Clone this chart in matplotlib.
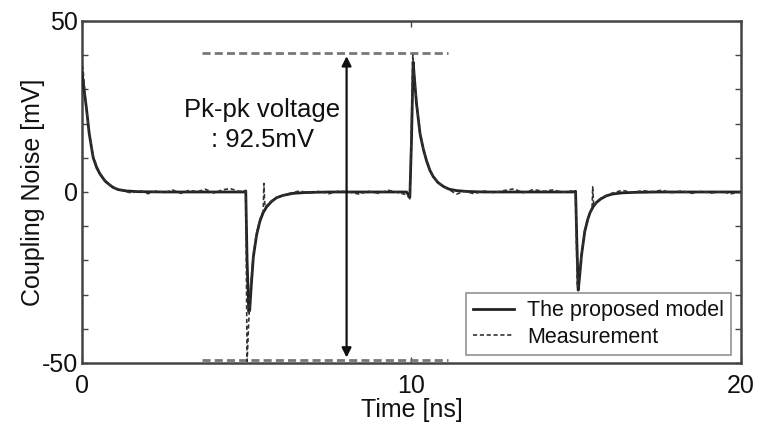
import matplotlib
matplotlib.use("Agg")
import matplotlib.pyplot as plt

plt.rcParams['font.family'] = ['Liberation Sans', 'DejaVu Sans']

# ---- data ----
model_t = [0.0, 0.05, 0.14, 0.22, 0.34, 0.45, 0.55, 0.7, 0.85, 0.95, 1.1, 1.35, 1.7, 2.5,
           4.9, 4.97, 5.01, 5.06, 5.09, 5.14, 5.2, 5.3, 5.4, 5.5, 5.6, 5.75, 5.9, 6.1, 6.4, 6.8, 7.5,
           9.85, 9.95, 10.0, 10.05, 10.1, 10.15, 10.26, 10.36, 10.46, 10.56, 10.66, 10.8, 10.97,
           11.15, 11.37, 11.7, 12.2,
           14.9, 14.98, 15.02, 15.06, 15.1, 15.16, 15.26, 15.35, 15.42, 15.52, 15.62, 15.75, 15.92,
           16.1, 16.4, 16.8, 17.5, 20.0]
model_v = [35, 31, 24, 17, 10, 7, 5.2, 3.2, 2.0, 1.3, 0.7, 0.3, 0.1, 0.0,
           0.0, 0.3, -20, -35, -34.5, -27, -19, -12.5, -8.5, -6, -4.4, -2.8, -1.7, -1.0, -0.4, -0.15, 0.0,
           0.0, -1.5, 15, 38, 32, 26, 17, 12.5, 9, 6.3, 4.5, 2.8, 1.6,
           0.8, 0.4, 0.15, 0.0,
           0.0, 0.2, -15, -28.7, -25, -18.5, -11.5, -8, -6, -4.2, -3.0, -2.0, -1.1,
           -0.6, -0.25, -0.1, 0.0, 0.0]

meas_t = [0.0, 0.03, 0.08, 0.14, 0.22, 0.34, 0.45, 0.55, 0.7, 0.85, 0.95, 1.1, 1.3, 1.5, 1.75,
          2.0, 2.25, 2.5, 2.75, 3.0, 3.25, 3.5, 3.75, 4.0, 4.25, 4.5, 4.75, 4.97,
          5.01, 5.06, 5.12, 5.2, 5.3, 5.4, 5.5, 5.52, 5.55, 5.6, 5.75, 5.9, 6.1, 6.3, 6.6, 6.9,
          7.2, 7.5, 7.8, 8.1, 8.4, 8.7, 9.0, 9.3, 9.6, 9.85, 9.95,
          10.0, 10.04, 10.08, 10.15, 10.26, 10.36, 10.46, 10.56, 10.66, 10.8, 10.97, 11.15, 11.37,
          11.6, 11.9, 12.2, 12.5, 12.8, 13.1, 13.4, 13.7, 14.0, 14.3, 14.6, 14.85, 14.98,
          15.03, 15.08, 15.16, 15.26, 15.35, 15.42, 15.48, 15.5, 15.53, 15.62, 15.75, 15.92,
          16.1, 16.4, 16.7, 17.0, 17.3, 17.6, 17.9, 18.2, 18.5, 18.8, 19.1, 19.4, 19.7, 20.0]
meas_v = [37, 36, 30, 24, 17, 10.5, 7.5, 5.5, 3.4, 2.0, 1.4, 0.7, 0.2, -0.3, 0.4,
          -0.5, 0.3, -0.2, 0.6, -0.4, 0.5, 0.1, 0.8, -0.3, 0.6, 1.0, 0.2, 0.3,
          -49.5, -38, -27, -18, -12, -8, -5.5, 2.5, -4.5, -4.0, -2.6, -1.6, -1.0, -0.4, 0.3, -0.3,
          0.2, -0.5, 0.3, 0.0, -0.6, 0.2, -0.4, 0.5, -0.2, -0.8, -2.0,
          20, 40, 34, 27, 17, 12.5, 9.4, 6.5, 4.5, 2.8, 1.6, 0.6, -0.6,
          0.2, -0.5, 0.3, -0.2, 0.4, 0.9, -0.2, 0.7, 0.2, 0.6, -0.1, 0.3, 0.0,
          -28, -26, -18, -11, -8, -6, -5, 1.5, -4.2, -2.8, -1.8, -1.0,
          -0.3, 0.5, -0.2, 0.4, 0.1, 0.5, -0.2, 0.3, -0.4, 0.2, -0.3, 0.1, -0.5, 0.0]

pk_top = 40.5
pk_bottom = -49.2
pk_span = [3.65, 11.1]
arrow_x = 8.03
annot_text = "Pk-pk voltage\n: 92.5mV"

x_ticks = [0, 10, 20]
y_ticks = [-50, -40, -30, -20, -10, 0, 10, 20, 30, 40, 50]
y_labels = ['-50', '', '', '', '', '0', '', '', '', '', '50']

# ---- figure ----
fig = plt.figure(figsize=(7.65, 4.24), dpi=100)
ax = fig.add_axes([0.1072, 0.1439, 0.8614, 0.8066])

txt = '#111111'
ax.plot(model_t, model_v, color='#222222', lw=2.0, label='The proposed model', zorder=3)
l2, = ax.plot(meas_t, meas_v, color='#333333', lw=1.2, ls='--', label='Measurement', zorder=4)
l2.set_dashes((2.5, 1.6))

for yv in (pk_top, pk_bottom):
    ln, = ax.plot(pk_span, [yv, yv], color='#777777', lw=2.0, zorder=2)
    ln.set_dashes((2.9, 1.5))

ax.annotate('', xy=(arrow_x, pk_bottom + 0.8), xytext=(arrow_x, pk_top - 0.8),
            arrowprops=dict(arrowstyle='<|-|>', color='#111111', lw=1.6,
                            mutation_scale=14, shrinkA=0, shrinkB=0), zorder=5)
ax.text(5.47, 19.5, annot_text, ha='center', va='center', fontsize=18.5,
        color=txt, linespacing=1.3)

ax.set_xlim(0, 20)
ax.set_ylim(-50, 50)
ax.set_xticks(x_ticks)
ax.set_xticklabels([str(v) for v in x_ticks])
ax.set_yticks(y_ticks)
ax.set_yticklabels(y_labels)
ax.tick_params(direction='in', length=4, width=1, colors='#444444',
               labelcolor=txt, labelsize=18, top=True, right=True)
ax.tick_params(axis='x', pad=8)
ax.tick_params(axis='y', pad=3)

for s in ax.spines.values():
    s.set_linewidth(1.8)
    s.set_color('#444444')

ax.set_xlabel('Time [ns]', fontsize=18, color=txt, labelpad=0)
ax.set_ylabel('Coupling Noise [mV]', fontsize=18, color=txt)
ax.yaxis.set_label_coords(-0.056, 0.5)

leg = ax.legend(loc='lower right', bbox_to_anchor=(0.992, 0.01), fontsize=15.5,
                frameon=True, fancybox=False, edgecolor='#777777', handlelength=1.9,
                borderpad=0.35, labelspacing=0.25, handletextpad=0.6, borderaxespad=0.2)
leg.get_frame().set_linewidth(1.2)
for t in leg.get_texts():
    t.set_color(txt)

fig.savefig('out.png', dpi=100)
